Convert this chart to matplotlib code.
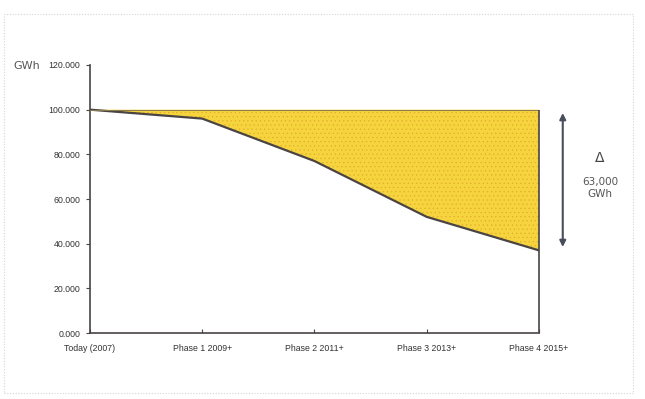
import matplotlib.pyplot as plt
import matplotlib.patches as mpatches
import numpy as np

# electricity demand path per phase, GWh
phases = ['Today (2007)', 'Phase 1 2009+', 'Phase 2 2011+', 'Phase 3 2013+', 'Phase 4 2015+']
demand = [100000, 96000, 77000, 52000, 37000]
baseline = [100000, 100000, 100000, 100000, 100000]
y_ticks = [0, 20000, 40000, 60000, 80000, 100000, 120000]
y_tick_labels = ['0.000', '20.000', '40.000', '60.000', '80.000', '100.000', '120.000']
saving_label = '63,000\nGWh'

narrow = ['Liberation Sans', 'DejaVu Sans']
dark = '#4a4444'

plt.rcParams['hatch.linewidth'] = 0.4
fig = plt.figure(figsize=(6.45, 3.99), dpi=100)
ax = fig.add_axes([0.1395, 0.1654, 0.6961, 0.6717])

x = np.arange(len(phases))

# saving area between flat baseline and the reduced demand
ax.fill_between(x, demand, baseline, facecolor='#f6d43e', edgecolor='#e3ad2c',
                hatch='....', linewidth=0, zorder=1)
ax.plot(x, demand, color=dark, linewidth=1.6, zorder=3)
ax.plot(x, baseline, color='#8a7a50', linewidth=0.7, zorder=3)
ax.vlines(x[-1], 0, baseline[-1], color=dark, linewidth=1.2, zorder=3, clip_on=False)

ax.set_xlim(x[0], x[-1])
ax.set_ylim(0, 120000)
ax.set_xticks(x)
ax.set_xticklabels(phases, fontfamily=narrow, fontsize=6.3, color='#333333')
ax.set_yticks(y_ticks)
ax.set_yticklabels(y_tick_labels, fontfamily=narrow, fontsize=6.3, color='#333333')

for side in ['top', 'right']:
    ax.spines[side].set_visible(False)
for side in ['left', 'bottom']:
    ax.spines[side].set_color(dark)
    ax.spines[side].set_linewidth(1.2)
ax.tick_params(axis='y', direction='out', length=3, width=0.8, color=dark, pad=4)
ax.tick_params(axis='x', direction='in', length=3, width=0.8, color=dark, pad=8)

fig.text(0.02, 0.835, 'GWh', fontsize=8, color='#555555', va='center', ha='left')

# double-headed arrow marking the gap at the last phase
ax.annotate('', xy=(1.053, demand[-1] + 1500), xytext=(1.053, baseline[-1] - 1500),
            xycoords=('axes fraction', 'data'), textcoords=('axes fraction', 'data'),
            arrowprops=dict(arrowstyle='<|-|>', color='#4a4e5a', lw=1.5,
                            mutation_scale=9, shrinkA=0, shrinkB=0),
            annotation_clip=False)
fig.text(0.930, 0.605, '\u0394', fontsize=10, color='#444444', ha='center', va='center')
fig.text(0.930, 0.530, saving_label, fontsize=7.5, color='#555555', ha='center',
         va='center', linespacing=1.25)

# dotted frame around the panel
frame = mpatches.Rectangle((0.006, 0.015), 0.975, 0.95, transform=fig.transFigure,
                           fill=False, linestyle=(0, (1, 1.5)), linewidth=0.8,
                           edgecolor='#d4d4d4')
fig.patches.append(frame)

fig.savefig('out.png', dpi=100)
